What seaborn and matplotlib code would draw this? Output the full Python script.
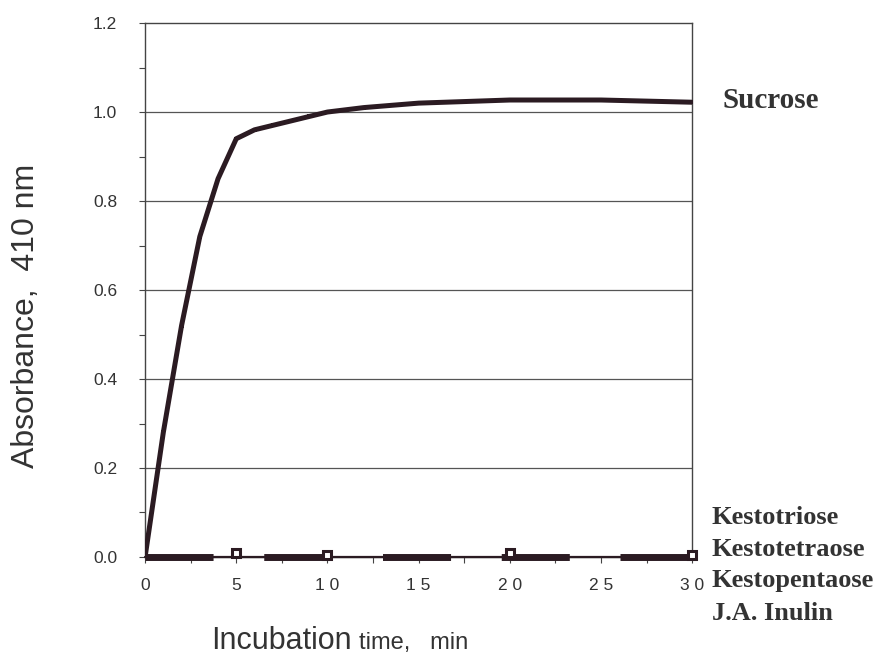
import numpy as np
import pandas as pd
import matplotlib
matplotlib.use("Agg")
import matplotlib.pyplot as plt
import seaborn as sns

# data
time_sucrose = [0, 1, 2, 3, 4, 5, 6, 7, 8, 9, 10, 12, 15, 20, 25, 30]
abs_sucrose = [0.0, 0.28, 0.52, 0.72, 0.85, 0.94, 0.96, 0.97, 0.98, 0.99, 1.0, 1.01, 1.02, 1.027, 1.027, 1.022]

time_kesto = [0, 5, 10, 15, 20, 25, 30]
abs_kesto = [0.0, 0.0, 0.0, 0.0, 0.0, 0.0, 0.0]
marker_time = [5, 10, 20, 30]
marker_abs = [0.01, 0.005, 0.008, 0.005]

kesto_names = ["Kestotriose", "Kestotetraose", "Kestopentaose", "J.A. Inulin"]
x_ticks = [0, 5, 10, 15, 20, 25, 30]
x_ticklabels = ["0", "5", "1 0", "1 5", "2 0", "2 5", "3 0"]
y_ticks = [0.0, 0.2, 0.4, 0.6, 0.8, 1.0, 1.2]

sucrose = pd.DataFrame({"time": time_sucrose, "abs": abs_sucrose})
kesto = pd.DataFrame({"time": time_kesto, "abs": abs_kesto})

sns.set_style("white")
plt.rcParams["font.family"] = ["Liberation Sans", "DejaVu Sans"]

line_col = "#2b1b22"

fig = plt.figure(figsize=(8.74, 6.58), dpi=100)
ax = fig.add_axes([0.166, 0.1535, 0.626, 0.8115])

for y in y_ticks[1:-1]:
    ax.axhline(y, color="#555555", lw=0.9, zorder=1)

sns.lineplot(data=sucrose, x="time", y="abs", ax=ax, color=line_col, lw=3.6,
             marker="s", markersize=3, markeredgewidth=0, zorder=3)

# kestose / inulin series: thin base line plus thick broken segments
sns.lineplot(data=kesto, x="time", y="abs", ax=ax, color=line_col, lw=1.6,
             zorder=3, clip_on=False)
sns.lineplot(data=kesto, x="time", y="abs", ax=ax, color=line_col, lw=5,
             dashes=False, linestyle=(0.0, (9.8, 7.3)), zorder=3, clip_on=False)
ax.plot(marker_time, marker_abs, ls="none", marker="s", markersize=5.5,
        markerfacecolor="white", markeredgecolor=line_col, markeredgewidth=2.2,
        zorder=4, clip_on=False)

ax.set_xlim(0, 30)
ax.set_ylim(0, 1.2)
ax.set_xticks(x_ticks)
ax.set_xticklabels(x_ticklabels)
ax.set_xticks(np.arange(0, 30.1, 2.5), minor=True)
ax.set_yticks(y_ticks)
ax.set_yticklabels([f"{v:.1f}" for v in y_ticks])
ax.set_yticks(np.arange(0, 1.21, 0.1), minor=True)
ax.tick_params(axis="both", which="both", direction="out", color="#444444",
               length=4, width=0.8, labelsize=12.5, bottom=True, left=True,
               labelcolor="#333333")
ax.tick_params(axis="y", which="major", pad=16)
ax.tick_params(axis="x", which="major", pad=11)

for s in ax.spines.values():
    s.set_color("#444444")
    s.set_linewidth(1.0)

ax.set_xlabel("")
ax.set_ylabel("")
fig.text(26 / 874, 1 - 316 / 658, "Absorbance,  410 nm", fontsize=23,
         color="#333333", rotation=90, ha="center", va="center")
fig.text(211 / 874, 1 - 649 / 658, "Incubation", fontsize=22, color="#333333", va="baseline")
fig.text(359 / 874, 1 - 649 / 658, "time,   min", fontsize=17, color="#333333", va="baseline")

serif = ["Liberation Serif", "DejaVu Serif"]
fig.text(722 / 874, 1 - 101 / 658, "Sucrose", family=serif, fontweight="bold",
         fontsize=21, color="#333333", va="center")
for i, name in enumerate(kesto_names):
    fig.text(712 / 874, 1 - (517 + 32 * i) / 658, name, family=serif,
             fontweight="bold", fontsize=19, color="#333333", va="center")

fig.savefig("out.png", dpi=100)
